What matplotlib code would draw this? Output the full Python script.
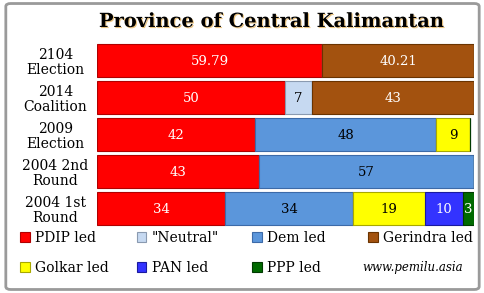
import numpy as np
import matplotlib.pyplot as plt
from matplotlib.patches import FancyBboxPatch
import matplotlib.patheffects as pe

plt.rcParams['font.family'] = ['DejaVu Serif']

rows = ['2104\nElection', '2014\nCoalition', '2009\nElection', '2004 2nd\nRound', '2004 1st\nRound']
parties = ['PDIP led', '"Neutral"', 'Dem led', 'Gerindra led', 'Golkar led', 'PAN led', 'PPP led']
pdip = [59.79, 50, 42, 43, 34]
neutral = [0, 7, 0, 0, 0]
dem = [0, 0, 48, 57, 34]
gerindra = [40.21, 43, 0, 0, 0]
golkar = [0, 0, 9, 0, 19]
pan = [0, 0, 0, 0, 10]
ppp = [0, 0, 0, 0, 3]

series = [pdip, neutral, dem, gerindra, golkar, pan, ppp]
colors = ['#ff0000', '#c6d9f1', '#5b96db', '#a3520f', '#ffff00', '#3333ff', '#006a00']
edges = ['#b00000', '#8a9ab0', '#3c6aa8', '#6a3300', '#a8a800', '#1a1aa0', '#003a00']
txtcol = ['white', 'black', 'black', 'white', 'black', 'white', 'white']

fig = plt.figure(figsize=(4.85, 2.93), dpi=100)
fig.patch.set_facecolor('white')

# frame
fig.patches.append(FancyBboxPatch((0.012, 0.012), 0.976, 0.976, boxstyle='round,pad=0,rounding_size=0.01',
                                  transform=fig.transFigure, fc='none', ec='#9a9a9a', lw=2.0))

ax = fig.add_axes([0.2, 0.225, 0.777, 0.632])
y = np.arange(len(rows))
left = np.zeros(len(rows))
handles = []
for vals, c, ec, tc, name in zip(series, colors, edges, txtcol, parties):
    vals = np.array(vals, dtype=float)
    b = ax.barh(y, vals, left=left, height=0.88, color=c, edgecolor=ec, linewidth=0.8, label=name)
    handles.append(b)
    for yi, v, l in zip(y, vals, left):
        if v > 0:
            ax.text(l + v / 2, yi + 0.03, f'{v:g}', ha='center', va='center', color=tc, fontsize=9.5)
    left += vals

ax.set_xlim(0, 100)
ax.set_ylim(len(rows) - 0.5, -0.5)
ax.set_yticks(y)
ax.set_yticklabels(rows, fontsize=10, ha='center', linespacing=1.1)
ax.tick_params(axis='y', length=0, pad=30)
ax.set_xticks([])
for s in ax.spines.values():
    s.set_visible(False)

fig.text(0.56, 0.925, 'Province of Central Kalimantan', ha='center', va='center',
         fontsize=14, fontweight='bold',
         path_effects=[pe.withSimplePatchShadow(offset=(0.8, -0.8), shadow_rgbFace='#e0a030', alpha=0.6)])

# legend: one column per legend so the columns sit at fixed places
cols = [[0, 4], [1, 5], [2, 6], [3]]
col_x = [0.041, 0.282, 0.52, 0.759]
for idx, cx in zip(cols, col_x):
    lg = fig.legend([handles[i] for i in idx], [parties[i] for i in idx], ncol=1,
                    loc='upper left', bbox_to_anchor=(cx, 0.211), frameon=False, fontsize=10,
                    handlelength=0.7, handleheight=0.7, handletextpad=0.4,
                    labelspacing=1.15, borderpad=0, borderaxespad=0)

fig.text(0.955, 0.088, 'www.pemilu.asia', ha='right', va='center', fontsize=8.5, style='italic')

fig.savefig('out.png', dpi=100)
